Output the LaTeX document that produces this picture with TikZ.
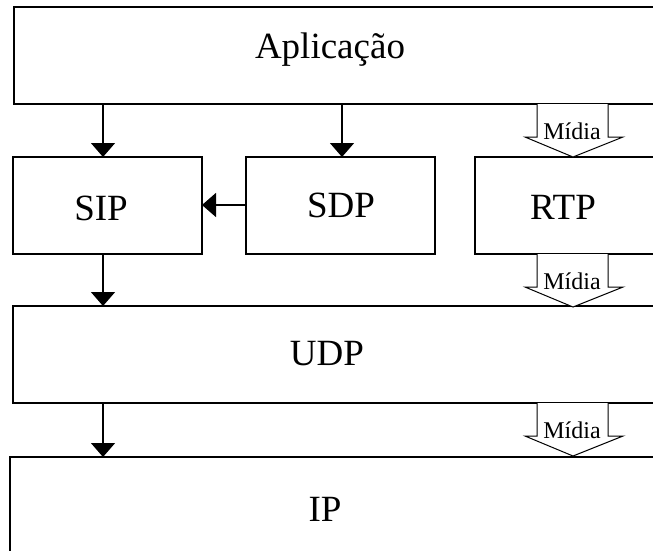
\documentclass[tikz,border=0pt]{standalone}
\usepackage{fontspec}
\setmainfont{Liberation Serif}
\usetikzlibrary{arrows.meta}
\tikzset{
  layerbox/.style={draw=black, line width=1.5pt, fill=white},
  lbl/.style={font=\fontsize{37}{40}\selectfont, inner sep=0pt},
  flow/.style={draw=black, line width=1.5pt, -{Triangle[width=24pt,length=14pt]}},
  media/.style={draw=black, line width=1pt, fill=white},
  medlbl/.style={font=\fontsize{24}{26}\selectfont, inner sep=0pt}
}
\begin{document}
\begin{tikzpicture}[x=1pt,y=-1pt]
\useasboundingbox (0,0) rectangle (653,550);
\clip (0,0) rectangle (653,550);
\fill[white] (0,0) rectangle (653,550);
% boxes
\draw[layerbox] (14,7) rectangle (670,104);
\draw[layerbox] (13,157) rectangle (202,254);
\draw[layerbox] (246,157) rectangle (435,254);
\draw[layerbox] (475,157) rectangle (670,254);
\draw[layerbox] (13,306) rectangle (670,403);
\draw[layerbox] (10,457) rectangle (670,570);
% labels
\node[lbl] (app) at (330,50) {Aplicação};
\node[lbl] (sip) at (101,208) {SIP};
\node[lbl] (sdp) at (341,205) {SDP};
\node[lbl] (rtp) at (563,207) {RTP};
\node[lbl] (udp) at (327,354) {UDP};
\node[lbl] (ip) at (325,509) {IP};
% anchor coordinates
\coordinate (appA) at (103,104);
\coordinate (sipT) at (103,157);
\coordinate (appB) at (342,104);
\coordinate (sdpT) at (342,157);
\coordinate (sdpL) at (246,205);
\coordinate (sipR) at (202,205);
\coordinate (sipB) at (103,254);
\coordinate (udpT) at (103,306);
\coordinate (udpB) at (103,403);
\coordinate (ipT) at (103,457);
% arrows
\draw[flow] (appA) -- (sipT);
\draw[flow] (appB) -- (sdpT);
\draw[flow] (sdpL) -- (sipR);
\draw[flow] (sipB) -- (udpT);
\draw[flow] (udpB) -- (ipT);
% media hollow arrows
\foreach \t/\n in {104/m1,254/m2,403/m3}{
  \pgfmathsetmacro{\b}{\t+33}
  \pgfmathsetmacro{\e}{\t+53}
  \pgfmathsetmacro{\c}{\t+27}
  \draw[media] (537,\t) -- (537,\b) -- (525,\b) -- (573,\e) -- (623,\b) -- (608,\b) -- (608,\t);
  \node[medlbl] (\n) at (572,\c) {Mídia};
}
\end{tikzpicture}
\end{document}
